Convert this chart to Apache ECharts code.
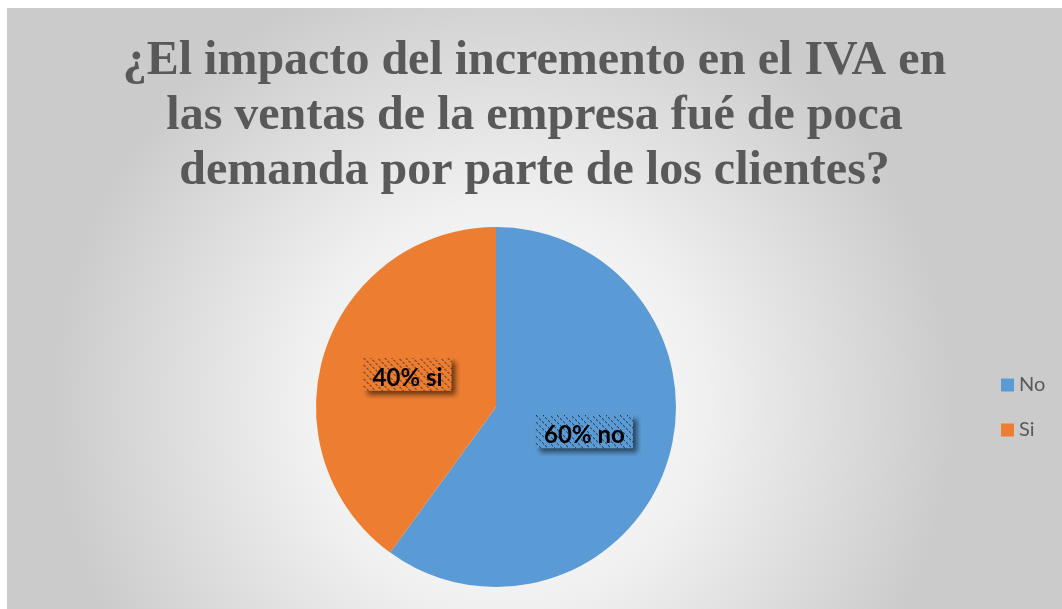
<!DOCTYPE html>
<html><head><meta charset="utf-8">
<script src="https://cdn.jsdelivr.net/npm/echarts@6/dist/echarts.min.js"></script>
<style>
html,body{margin:0;padding:0;background:#fff;width:1062px;height:609px;overflow:hidden}
#c{position:absolute;left:7px;top:8px;width:1055px;height:601px}
</style></head><body>
<div id="c"></div>
<script>
const titleText = '¿El impacto del incremento en el IVA en\nlas ventas de la empresa fué de poca\ndemanda por parte de los clientes?';
const categories = ['No', 'Si'];
const values = [60, 40];
const labelTexts = ['60% no', '40% si'];
const colors = ['#5B9BD5', '#ED7D31'];

const SH = 8; // shadow margin drawn into the label image
function hatch(color, w, h) {
  const pc = document.createElement('canvas');
  pc.width = w + 2 * SH; pc.height = h + SH;
  const px = pc.getContext('2d');
  px.translate(SH, 0);
  px.save();
  px.shadowColor = 'rgba(0,0,0,0.55)';
  px.shadowBlur = 5; px.shadowOffsetX = 4; px.shadowOffsetY = 4;
  px.fillStyle = color; px.fillRect(0, 0, w, h);
  px.restore();
  px.fillStyle = color; px.fillRect(0, 0, w, h);
  px.fillStyle = 'rgba(30,30,30,0.85)';
  for (let y = 0; y < h; y++) {
    for (let x = 0; x < w; x++) {
      const d = ((x - y) % 7 + 7) % 7;
      if (d === 0 && (x % 3) < 2) px.fillRect(x, y, 1, 1);
    }
  }
  return pc;
}
const boxW = [97, 88], boxH = 33;

const chart = echarts.init(document.getElementById('c'));
chart.setOption({
  backgroundColor: {
    type: 'radial', x: 0.47, y: 0.66, r: 0.75,
    colorStops: [{offset: 0, color: '#ffffff'}, {offset: 0.45, color: '#f0f0f0'}, {offset: 1, color: '#cbcbcb'}]
  },
  title: {
    text: titleText, left: 'center', top: 21,
    textStyle: {fontFamily: 'Liberation Serif', fontWeight: 'bold', fontSize: 48, lineHeight: 55, color: '#595959'}
  },
  legend: {
    orient: 'vertical', left: 989, top: 362, itemWidth: 13, itemHeight: 13, itemGap: 25,
    icon: 'rect', data: categories,
    textStyle: {fontFamily: 'Lato', fontSize: 20, color: '#595959'}
  },
  series: [{
    type: 'pie', center: [489, 399], radius: 180, startAngle: 90, clockwise: true,
    avoidLabelOverlap: false,
    data: categories.map((c, i) => ({
      name: c, value: values[i], itemStyle: {color: colors[i]},
      label: {
        formatter: labelTexts[i], width: boxW[i], height: boxH,
        padding: [0, SH, SH, SH],
        backgroundColor: {image: hatch(colors[i], boxW[i], boxH)}
      }
    })),
    label: {
      show: true, position: 'inside', color: '#000', fontFamily: 'Lato', fontWeight: 'bold', fontSize: 24,
      align: 'center', verticalAlign: 'middle', lineHeight: 33
    },
    labelLine: {show: false},
    emphasis: {disabled: true}
  }]
});
</script></body></html>
